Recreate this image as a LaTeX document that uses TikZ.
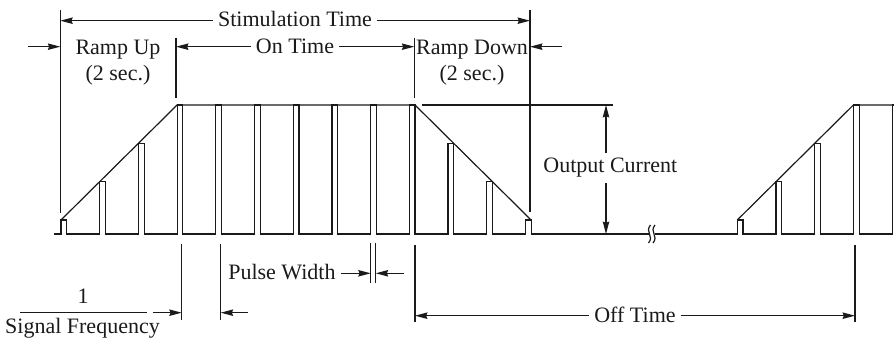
\documentclass[tikz,border=0pt]{standalone}
\usepackage{fontspec}
\setmainfont{Liberation Serif}
\usepackage{xcolor}
\usepackage{tikz}
\usetikzlibrary{arrows.meta,positioning}
\definecolor{InkBlack}{HTML}{1A1A1A}
\tikzset{
  sigline/.style={line width=0.6pt,draw=InkBlack,line join=miter},
  dimline/.style={line width=0.6pt,draw=InkBlack},
  dimarr/.style={-{Stealth[length=6.2pt,width=3.2pt,inset=0.6pt]},
                 line width=0.6pt,draw=InkBlack},
  lbl/.style={font=\fontsize{11}{13}\selectfont,text=InkBlack,
              inner sep=2.5pt,align=center}
}

\begin{document}
\begin{tikzpicture}[x=0.5pt,y=-0.5pt]
  \useasboundingbox (0,0) rectangle (894,340);
  % labels
  \node[lbl,anchor=base] (stim) at (295,26.7) {Stimulation Time};
  \node[lbl,anchor=base] (ontime) at (295,53.3) {On Time};
  \node[lbl,anchor=base] (rampup) at (118,81) {Ramp Up\\(2 sec.)};
  \node[lbl,anchor=base] (rampdn) at (472,81) {Ramp Down\\(2 sec.)};
  \node[lbl,anchor=base west] (outcur) at (538,173) {Output Current};
  \node[lbl,anchor=base east] (pwidth) at (341,280) {Pulse Width};
  \node[lbl,anchor=base] (one) at (83,303.3) {1};
  \node[lbl,anchor=base] (sigfreq) at (82.5,334) {Signal Frequency};
  \node[lbl,anchor=base] (offtime) at (635,323) {Off Time};
  % arrow ends
  \coordinate (stimL) at (60.3,20.7);
  \coordinate (stimR) at (530,20.7);
  \coordinate (onL) at (176,46.7);
  \coordinate (onR) at (414.3,46.7);
  \coordinate (ruOut) at (28.3,46.7);
  \coordinate (ruTip) at (60.3,46.7);
  \coordinate (rdOut) at (562,46.7);
  \coordinate (rdTip) at (530,46.7);
  \coordinate (octop) at (606,105);
  \coordinate (ocbot) at (606,234);
  \coordinate (pwL) at (370.7,273.3);
  \coordinate (pwR) at (375.7,273.3);
  \coordinate (pwOut) at (404,273.3);
  \coordinate (sfLout) at (153.3,312.7);
  \coordinate (sfL) at (181.7,312.7);
  \coordinate (sfRout) at (248.3,312.7);
  \coordinate (sfR) at (220.7,312.7);
  \coordinate (offL) at (415,315.7);
  \coordinate (offR) at (855,315.7);
  % extension lines
  \draw[dimline] (60.3,10) -- (60.3,213);
  \draw[dimline] (530,10) -- (530,212);
  \draw[dimline] (176,38) -- (176,98);
  \draw[dimline] (414.3,38) -- (414.3,98);
  \draw[dimline] (370.7,243) -- (370.7,283);
  \draw[dimline] (375.7,243) -- (375.7,283);
  \draw[dimline] (181.7,244) -- (181.7,320);
  \draw[dimline] (220.7,244) -- (220.7,320);
  \draw[dimline] (415,245) -- (415,322);
  \draw[dimline] (855,245) -- (855,322);
  \draw[dimline] (20,312.7) -- (146.7,312.7);
  % dimension arrows
  \draw[dimarr] (stim.west |- stimL) -- (stimL);
  \draw[dimarr] (stim.east |- stimR) -- (stimR);
  \draw[dimarr] (ontime.west |- onL) -- (onL);
  \draw[dimarr] (ontime.east |- onR) -- (onR);
  \draw[dimarr] (ruOut) -- (ruTip);
  \draw[dimarr] (rdOut) -- (rdTip);
  \draw[dimarr] (outcur.north -| octop) -- (octop);
  \draw[dimarr] (outcur.south -| ocbot) -- (ocbot);
  \draw[dimarr] (pwidth.east |- pwL) -- (pwL);
  \draw[dimarr] (pwOut) -- (pwR);
  \draw[dimarr] (sfLout) -- (sfL);
  \draw[dimarr] (sfRout) -- (sfR);
  \draw[dimarr] (offtime.west |- offL) -- (offL);
  \draw[dimarr] (offtime.east |- offR) -- (offR);
  % pulse train
  \draw[sigline] (54,234)
    \foreach \x/\h in {61/220,99.7/181.7,138.4/143.3,177.1/105,215.8/105,
      254.5/105,293.2/105,331.9/105,370.6/105,409.3/105,448/143.3,
      486.7/181.7,525.4/220}
    { -- (\x,234) -- (\x,\h) -- (\x+5.7,\h) -- (\x+5.7,234) }
    -- (649,234);
  \draw[sigline] (654.5,234)
    \foreach \x/\h in {737.3/220,776/181.7,814.7/143.3,853.4/105,892.1/105}
    { -- (\x,234) -- (\x,\h) -- (\x+5.7,\h) -- (\x+5.7,234) };
  \draw[sigline] (61,220) -- (177.1,105) -- (415,105) -- (531.1,220);
  \draw[sigline] (737.3,220) -- (853.4,105) -- (892.1,105);
  \draw[sigline] (421.7,105) -- (613,105);
  % break
  \foreach \dx in {0,4.5}
    \draw[sigline] (650.5+\dx,225) .. controls (644.5+\dx,232)
      and (654.5+\dx,236) .. (648.5+\dx,243);
\end{tikzpicture}
\end{document}
